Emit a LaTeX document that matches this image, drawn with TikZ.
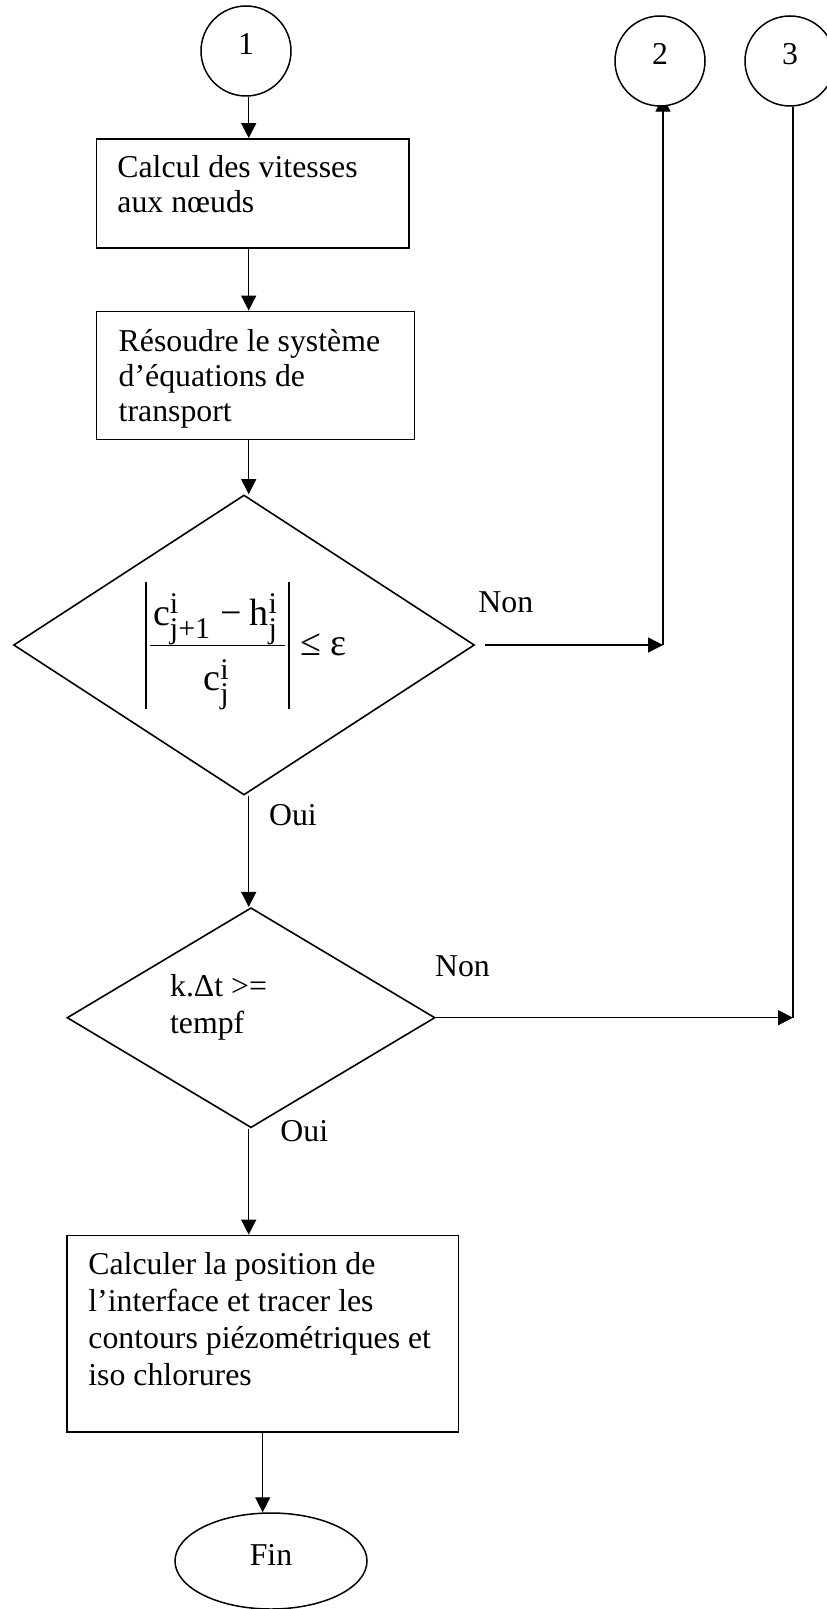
\documentclass[tikz,border=0pt]{standalone}
\usepackage{fontspec}
\setmainfont{Liberation Serif}
\usetikzlibrary{arrows.meta,shapes.geometric,backgrounds}

% left-aligned block of lines whose baseline is the first line
\newcommand\linesblock[1]{\begin{tabular}[t]{@{}l@{}}#1\end{tabular}}
% letter with a stacked superscript and subscript
\newcommand\stackidx[3]{#1\rlap{\raisebox{5.75pt}{\fontsize{15}{15}\selectfont #2}}\raisebox{-6.5pt}{\fontsize{15}{15}\selectfont #3}}

\tikzset{
  x=0.5pt, y=-0.5pt,
  frame/.style={draw, rectangle, line width=0.9pt, inner sep=0pt},
  test/.style={draw, diamond, line width=0.8pt, inner sep=0pt},
  conn/.style={draw, circle, fill=white, line width=0.75pt, minimum size=45pt,
    inner sep=0pt, text height=8pt, text depth=4pt, font=\fontsize{15.9}{17.5}\selectfont},
  txt/.style={anchor=base west, inner sep=0pt, font=\fontsize{15.9}{17.5}\selectfont},
  eq/.style={anchor=base west, inner sep=0pt, font=\fontsize{19}{21}\selectfont},
  rulestroke/.style={line width=0.55pt},
  flow/.style={line width=0.7pt, -{Triangle[length=7.5pt,width=7.5pt]}},
  plain/.style={line width=0.7pt},
}

\begin{document}
\begin{tikzpicture}
\useasboundingbox (0,0) rectangle (826,1609);

% guide coordinates for the vertical spine and the two return branches
\coordinate (spine) at (248.7,0);
\coordinate (j2) at (663,645);
\coordinate (j3) at (793,1017.7);

% connectors
\node[conn] (c1) at (246,51) {1\hspace{9.5pt}};
\node[conn] (c2) at (660,61) {2\hspace{9.5pt}};
\node[conn] (c3) at (790,61) {3\hspace{9.5pt}};

% processing boxes
\node[frame, minimum width=156.25pt, minimum height=54.5pt] (b1) at (252.75,193.5) {};
\node[txt] (t1) at (117,178) {\linesblock{Calcul des vitesses\\aux nœuds}};

\node[frame, minimum width=159pt, minimum height=64pt] (b2) at (255.5,375.5) {};
\node[txt] (t2) at (118.3,351.7) {\linesblock{Résoudre le système\\d’équations de\\transport}};

% convergence test
\node[test, minimum width=230.5pt, minimum height=150pt] (d1) at (244,645) {};
\node[eq] (num) at (152.7,625) {\stackidx{c}{i}{j+1}\kern5pt−\kern4pt\stackidx{h}{i}{j}};
\node[eq] (den) at (203,690.7) {\stackidx{c}{i}{j}};
\node[eq] (le) at (300,655) {≤ ε};
\draw[rulestroke] (150,645.7) -- (284.5,645.7);
\draw[rulestroke] (146,582) -- (146,709);
\draw[rulestroke] (289,582) -- (289,709);

% end-of-simulation test
\node[test, minimum width=184pt, minimum height=110pt] (d2) at (251,1017.7) {};
\node[txt, font=\fontsize{15.9}{18.35}\selectfont] (t4) at (169.7,996.7) {\linesblock{k.Δt >=\\tempf}};

% final output
\node[frame, minimum width=195.7pt, minimum height=98.1pt] (b3) at (262.7,1333.6) {};
\node[txt, font=\fontsize{15.9}{18.5}\selectfont] (t3) at (88,1274)
  {\linesblock{Calculer la position de\\l’interface et tracer les\\contours piézométriques et\\iso chlorures}};

\node[draw, ellipse, line width=0.75pt, minimum width=96pt, minimum height=48pt, inner sep=0pt,
  text height=8pt, text depth=4pt, font=\fontsize{15.9}{17.5}\selectfont] (fin) at (271,1561) {Fin};

% branch labels
\node[txt] (non1) at (478,612.7) {Non};
\node[txt] (oui1) at (268.7,825) {Oui};
\node[txt] (non2) at (434.7,976.7) {Non};
\node[txt] (oui2) at (280,1141.7) {Oui};

% flow lines
\draw[flow] (c1.south -| spine) -- (b1.north -| spine);
\draw[flow] (b1.south -| spine) -- (b2.north -| spine);
\draw[flow] (b2.south -| spine) -- (d1.north -| spine);
\draw[flow] (d1.south -| spine) -- (d2.north -| spine);
\draw[flow, shorten <=5pt] (d1.east) -- (j2);
\begin{pgfonlayer}{background}
  \draw[flow, shorten >=-5pt] (j2) -- (c2.south -| j2);
\end{pgfonlayer}
\draw[plain] (c3.south -| j3) -- (j3);
\draw[flow] (d2.east) -- (j3);
\draw[flow] (d2.south -| spine) -- (b3.north -| spine);
\draw[flow] (b3.south) -- (b3.south |- fin.north);
\end{tikzpicture}
\end{document}
